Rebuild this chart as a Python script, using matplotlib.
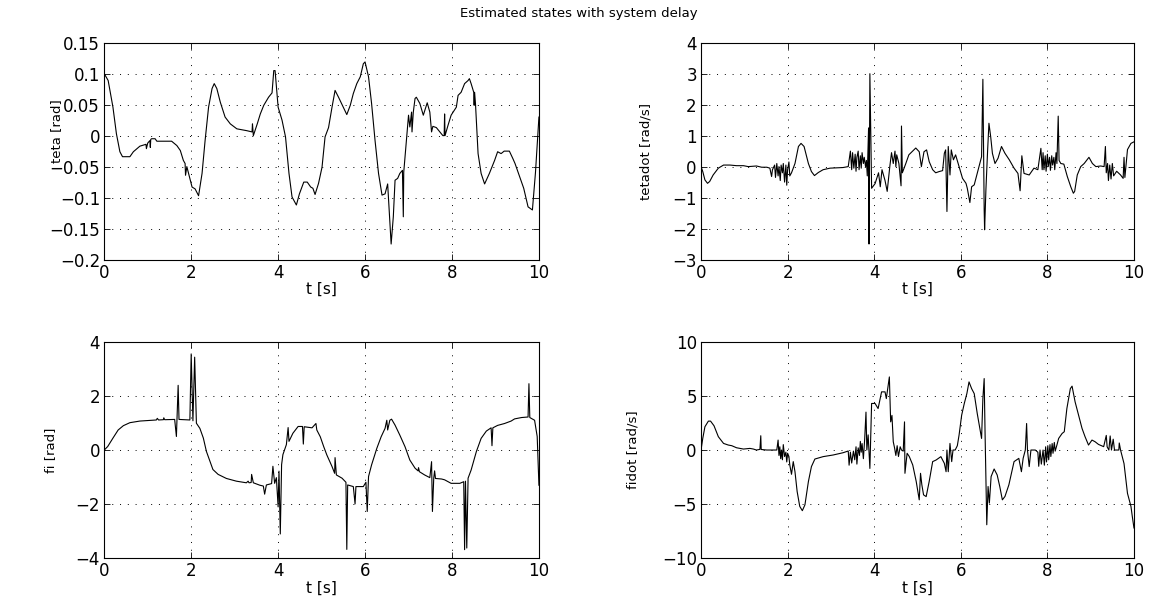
import matplotlib
matplotlib.use("Agg")
import matplotlib.pyplot as plt
import numpy as np

# (t, value) points
teta_pts = [
    (0, 0.1), (0.09, 0.089), (0.2, 0.046), (0.28, 0.003), (0.36, -0.026), (0.42, -0.034),
    (0.59, -0.034), (0.67, -0.026), (0.82, -0.017), (0.96, -0.014), (0.97, -0.021), (1.0, -0.012),
    (1.05, -0.008), (1.06, -0.019), (1.07, -0.006), (1.09, -0.005), (1.17, -0.005), (1.21, -0.009),
    (1.55, -0.009), (1.67, -0.016), (1.75, -0.024), (1.82, -0.04), (1.86, -0.045), (1.87, -0.064),
    (1.9, -0.05), (1.98, -0.072), (2.02, -0.083), (2.09, -0.086), (2.17, -0.097), (2.25, -0.061),
    (2.32, -0.008), (2.4, 0.046), (2.48, 0.076), (2.53, 0.084), (2.59, 0.076), (2.67, 0.054),
    (2.78, 0.03), (2.9, 0.019), (3.05, 0.011), (3.28, 0.008), (3.4, 0.006), (3.41, 0.019),
    (3.43, 0.0), (3.52, 0.019), (3.59, 0.035), (3.67, 0.049), (3.78, 0.062), (3.86, 0.069),
    (3.9, 0.105), (3.93, 0.105), (4.0, 0.046), (4.09, 0.025), (4.17, -0.002), (4.25, -0.061),
    (4.32, -0.099), (4.42, -0.112), (4.49, -0.094), (4.59, -0.075), (4.67, -0.075), (4.75, -0.083),
    (4.8, -0.085), (4.85, -0.095), (4.93, -0.077), (5.01, -0.051), (5.08, -0.002), (5.16, 0.013),
    (5.24, 0.046), (5.31, 0.073), (5.39, 0.062), (5.5, 0.046), (5.58, 0.034), (5.66, 0.049),
    (5.73, 0.068), (5.81, 0.084), (5.89, 0.095), (5.96, 0.116), (6.0, 0.119), (6.08, 0.095),
    (6.15, 0.052), (6.23, -0.008), (6.31, -0.061), (6.39, -0.096), (6.46, -0.094), (6.52, -0.078),
    (6.57, -0.137), (6.6, -0.175), (6.65, -0.131), (6.69, -0.072), (6.75, -0.069), (6.8, -0.061),
    (6.86, -0.056), (6.88, -0.131), (6.89, -0.059), (6.92, -0.034), (6.95, -0.01), (7.0, 0.033),
    (7.03, 0.014), (7.07, 0.038), (7.08, 0.006), (7.11, 0.038), (7.15, 0.06), (7.18, 0.062),
    (7.26, 0.052), (7.34, 0.033), (7.43, 0.053), (7.49, 0.038), (7.53, 0.006), (7.56, 0.015),
    (7.64, 0.013), (7.72, 0.006), (7.79, 0.0), (7.82, 0.0), (7.83, 0.035), (7.84, 0.0),
    (7.91, 0.017), (7.98, 0.033), (8.1, 0.046), (8.14, 0.065), (8.21, 0.07), (8.29, 0.084),
    (8.37, 0.089), (8.4, 0.092), (8.44, 0.084), (8.5, 0.07), (8.51, 0.049), (8.52, 0.07),
    (8.54, 0.052), (8.6, -0.029), (8.67, -0.061), (8.75, -0.078), (8.86, -0.061), (8.98, -0.04),
    (9.05, -0.026), (9.13, -0.029), (9.2, -0.025), (9.32, -0.025), (9.4, -0.037), (9.45, -0.045),
    (9.55, -0.065), (9.65, -0.085), (9.75, -0.115), (9.85, -0.12), (9.92, -0.06), (10.0, 0.03),
]

tetadot_pts = [
    (0, 0), (0.04, -0.16), (0.09, -0.43), (0.15, -0.54), (0.2, -0.48), (0.28, -0.27), (0.4, -0.05),
    (0.52, 0.05), (0.67, 0.05), (0.82, 0.03), (0.98, 0.03), (1.09, 0.0), (1.28, 0.02), (1.4, -0.02),
    (1.52, -0.02), (1.59, -0.05), (1.63, -0.32), (1.65, -0.1), (1.7, 0.05), (1.72, -0.35), (1.75, 0.1),
    (1.78, -0.3), (1.8, 0.0), (1.83, -0.45), (1.85, 0.05), (1.88, -0.2), (1.9, 0.1), (1.93, -0.5),
    (1.96, 0.05), (1.98, -0.6), (2.0, -0.1), (2.03, 0.15), (2.05, -0.3), (2.09, -0.2), (2.17, 0.1),
    (2.25, 0.65), (2.31, 0.75), (2.38, 0.65), (2.48, 0.1), (2.55, -0.16), (2.62, -0.29), (2.71, -0.19),
    (2.82, -0.1), (2.98, -0.05), (3.28, -0.03), (3.4, 0.0), (3.45, 0.5), (3.48, -0.1), (3.5, 0.45),
    (3.53, -0.05), (3.56, 0.4), (3.58, -0.15), (3.6, 0.3), (3.63, 0.5), (3.65, -0.1), (3.68, 0.35),
    (3.7, -0.05), (3.72, 0.45), (3.75, 0.1), (3.77, 0.3), (3.8, 0.0), (3.82, 0.2), (3.84, -0.3),
    (3.87, 1.25), (3.88, -2.5), (3.9, 3.0), (3.94, -0.7), (4.02, -0.55), (4.1, -0.2), (4.14, -0.65),
    (4.18, -0.1), (4.25, -0.45), (4.3, -0.8), (4.36, 0.0), (4.4, 0.45), (4.44, 0.1), (4.48, 0.5),
    (4.5, 0.0), (4.52, 0.38), (4.57, 0.1), (4.62, -0.62), (4.63, 1.31), (4.65, -0.2), (4.73, 0.1),
    (4.8, 0.38), (4.96, 0.6), (5.04, 0.48), (5.09, 0.0), (5.15, 0.48), (5.21, 0.54), (5.27, 0.16),
    (5.35, -0.1), (5.42, -0.2), (5.5, -0.16), (5.58, -0.13), (5.62, 0.43), (5.65, 0.54), (5.68, -1.45),
    (5.71, 0.65), (5.75, -0.27), (5.78, 0.54), (5.83, 0.22), (5.88, 0.38), (5.96, 0.0), (6.04, -0.38),
    (6.12, -0.54), (6.15, -0.7), (6.21, -1.16), (6.25, -0.65), (6.31, -0.59), (6.38, -0.22),
    (6.45, 0.16), (6.48, 0.32), (6.51, 2.82), (6.54, -1.4), (6.55, -2.04), (6.58, -0.75), (6.62, 0.54),
    (6.65, 1.4), (6.69, 0.97), (6.73, 0.43), (6.79, 0.1), (6.86, 0.27), (6.94, 0.65), (7.02, 0.43),
    (7.12, 0.22), (7.23, -0.05), (7.32, -0.22), (7.37, -0.78), (7.41, 0.35), (7.46, -0.22),
    (7.58, -0.27), (7.69, -0.05), (7.78, -0.1), (7.85, 0.59), (7.88, -0.1), (7.9, 0.45), (7.92, -0.1),
    (7.95, 0.35), (7.97, -0.15), (8.0, 0.4), (8.02, 0.0), (8.05, 0.3), (8.07, -0.12), (8.1, 0.35),
    (8.12, 0.05), (8.15, 0.3), (8.17, -0.1), (8.2, 0.45), (8.22, 0.1), (8.25, 1.63), (8.27, 0.2),
    (8.31, 0.1), (8.38, 0.08), (8.46, -0.32), (8.54, -0.65), (8.6, -0.86), (8.63, -0.8), (8.69, -0.27),
    (8.77, 0.0), (8.85, 0.1), (8.96, 0.3), (9.04, 0.1), (9.12, 0.0), (9.23, 0.02), (9.31, 0.0),
    (9.34, 0.65), (9.36, -0.2), (9.39, 0.1), (9.41, -0.45), (9.44, 0.05), (9.47, -0.4), (9.5, 0.1),
    (9.53, -0.3), (9.6, -0.15), (9.69, -0.27), (9.75, -0.38), (9.77, 0.3), (9.79, -0.35),
    (9.85, 0.55), (9.93, 0.75), (10.0, 0.8),
]

fi_pts = [
    (0, 0), (0.08, 0.13), (0.2, 0.44), (0.32, 0.74), (0.44, 0.9), (0.59, 1.01), (0.82, 1.07),
    (1.2, 1.11), (1.22, 1.17), (1.25, 1.11), (1.36, 1.12), (1.37, 1.19), (1.39, 1.12), (1.62, 1.13),
    (1.66, 0.5), (1.7, 2.39), (1.72, 1.13), (1.97, 1.11), (2.0, 3.55), (2.04, 1.08), (2.08, 3.43),
    (2.12, 0.99), (2.2, 0.8), (2.28, 0.44), (2.35, -0.05), (2.43, -0.41), (2.5, -0.72), (2.62, -0.9),
    (2.81, -1.05), (3.04, -1.15), (3.27, -1.21), (3.31, -1.15), (3.33, -1.21), (3.38, -1.2),
    (3.39, -0.9), (3.43, -1.21), (3.58, -1.3), (3.66, -1.33), (3.69, -1.63), (3.73, -1.29),
    (3.85, -1.24), (3.88, -0.6), (3.92, -1.23), (3.96, -1.02), (4.0, -2.1), (4.02, -0.78),
    (4.05, -3.1), (4.08, -0.54), (4.11, -0.17), (4.19, 0.2), (4.23, 0.83), (4.25, 0.32), (4.34, 0.62),
    (4.46, 0.87), (4.56, 0.87), (4.58, 0.22), (4.6, 0.86), (4.78, 0.82), (4.87, 0.98), (4.89, 0.74),
    (4.97, 0.49), (5.05, 0.12), (5.12, -0.18), (5.24, -0.61), (5.3, -0.86), (5.31, -0.28),
    (5.34, -0.92), (5.47, -1.04), (5.56, -1.19), (5.58, -3.67), (5.6, -1.29), (5.73, -1.35),
    (5.77, -1.99), (5.79, -1.35), (5.96, -1.35), (6.02, -1.19), (6.05, -2.27), (6.08, -0.98),
    (6.15, -0.55), (6.27, 0.06), (6.37, 0.49), (6.46, 0.8), (6.5, 1.1), (6.52, 0.74), (6.57, 1.1),
    (6.61, 1.14), (6.69, 0.92), (6.8, 0.55), (6.92, 0.12), (7.03, -0.37), (7.15, -0.67),
    (7.22, -0.77), (7.23, -0.65), (7.25, -0.8), (7.37, -0.92), (7.49, -1.02), (7.53, -0.43),
    (7.55, -2.27), (7.58, -1.04), (7.6, -0.77), (7.62, -1.05), (7.76, -1.07), (7.83, -1.1),
    (7.91, -1.17), (7.98, -1.23), (8.18, -1.23), (8.27, -1.17), (8.29, -3.68), (8.31, -1.15),
    (8.34, -3.62), (8.37, -1.04), (8.44, -0.74), (8.56, -0.06), (8.67, 0.43), (8.79, 0.7),
    (8.9, 0.82), (8.92, 0.16), (8.94, 0.82), (9.05, 0.91), (9.21, 0.98), (9.36, 1.07), (9.44, 1.15),
    (9.6, 1.2), (9.75, 1.22), (9.77, 2.45), (9.79, 1.2), (9.9, 1.1), (9.96, 0.5), (10.0, -1.3),
]

fidot_pts = [
    (0, 0), (0.04, 1.07), (0.09, 2.15), (0.17, 2.67), (0.22, 2.67), (0.3, 2.24), (0.4, 1.23),
    (0.52, 0.61), (0.63, 0.46), (0.71, 0.4), (0.82, 0.21), (0.98, 0.09), (1.13, 0.15), (1.21, 0.09),
    (1.28, 0.0), (1.36, 0.06), (1.38, 1.32), (1.39, 0.05), (1.52, 0.0), (1.75, 0.0), (1.78, 0.92),
    (1.8, -0.5), (1.82, 0.3), (1.84, -0.8), (1.86, 0.0), (1.88, -0.9), (1.9, 0.5), (1.93, -0.6),
    (1.96, -0.2), (1.98, -1.1), (2.0, -0.3), (2.03, -0.6), (2.05, -1.38), (2.09, -2.24), (2.13, -1.07),
    (2.17, -2.0), (2.22, -3.83), (2.28, -5.2), (2.34, -5.6), (2.4, -5.06), (2.48, -2.91),
    (2.55, -1.53), (2.63, -0.83), (2.82, -0.61), (3.05, -0.46), (3.28, -0.25), (3.4, -0.09),
    (3.42, -1.4), (3.45, -0.2), (3.48, -1.2), (3.52, -0.1), (3.55, -0.9), (3.58, 0.3), (3.6, -1.3),
    (3.63, 0.2), (3.66, -0.5), (3.68, 0.8), (3.7, -0.2), (3.72, 0.6), (3.75, -0.8), (3.78, 1.0),
    (3.81, 3.5), (3.83, 0.0), (3.86, 1.4), (3.9, -1.7), (3.94, 4.3), (4.02, 4.3), (4.09, 3.83),
    (4.17, 5.37), (4.25, 5.37), (4.28, 4.75), (4.35, 6.75), (4.38, 2.6), (4.41, 3.2), (4.44, 0.77),
    (4.47, 0.2), (4.5, -0.5), (4.53, 0.4), (4.56, -0.6), (4.6, 0.3), (4.63, 0.0), (4.67, -0.1),
    (4.7, 2.6), (4.71, -2.15), (4.76, -0.3), (4.81, -0.6), (4.89, -1.38), (4.97, -2.9), (5.04, -4.6),
    (5.07, -2.15), (5.1, -3.2), (5.14, -4.14), (5.2, -4.3), (5.27, -2.9), (5.35, -1.07), (5.43, -0.92),
    (5.54, -0.61), (5.62, -1.23), (5.66, -2.0), (5.68, 0.0), (5.71, -2.0), (5.75, 0.61), (5.79, -1.07),
    (5.82, 0.0), (5.87, 0.0), (5.92, 0.4), (5.96, 1.38), (6.02, 3.22), (6.08, 4.29), (6.14, 5.21),
    (6.19, 6.29), (6.25, 5.67), (6.31, 5.21), (6.38, 3.37), (6.44, 2.0), (6.48, 1.07), (6.51, 4.75),
    (6.54, 6.6), (6.56, 1.69), (6.6, -6.9), (6.63, -3.37), (6.66, -4.9), (6.7, -2.45), (6.77, -1.75),
    (6.84, -2.3), (6.9, -3.37), (6.96, -4.6), (7.02, -4.29), (7.11, -3.22), (7.23, -1.07),
    (7.34, -0.77), (7.4, -2.0), (7.44, -0.77), (7.49, 0.0), (7.52, 2.45), (7.54, 0.0), (7.58, -1.53),
    (7.62, 0.0), (7.72, 0.0), (7.78, -0.2), (7.8, -1.5), (7.83, 0.0), (7.86, -1.3), (7.9, 0.0),
    (7.93, -1.4), (7.96, 0.3), (7.98, -1.1), (8.01, 0.4), (8.03, -0.9), (8.06, 0.5), (8.08, -0.6),
    (8.11, 0.6), (8.13, -0.3), (8.16, 0.7), (8.18, -0.1), (8.22, 0.46), (8.26, 1.07), (8.34, 1.53),
    (8.39, 1.69), (8.45, 3.83), (8.53, 5.67), (8.57, 5.9), (8.64, 4.45), (8.72, 3.22), (8.8, 2.0),
    (8.87, 1.23), (8.95, 0.46), (9.03, 0.92), (9.1, 0.77), (9.18, 0.52), (9.3, 0.31), (9.36, 1.35),
    (9.38, 0.3), (9.42, 0.0), (9.45, 1.3), (9.48, 0.0), (9.52, 1.0), (9.55, 0.0), (9.65, 0.0),
    (9.66, 0.65), (9.69, 0.0), (9.77, -1.25), (9.85, -4.0), (9.93, -5.2), (9.96, -6.1), (10.0, -7.2),
]

ylabels = ["teta [rad]", "tetadot [rad/s]", "fi [rad]", "fidot [rad/s]"]
yticks = [
    [-0.2, -0.15, -0.1, -0.05, 0, 0.05, 0.1, 0.15],
    [-3, -2, -1, 0, 1, 2, 3, 4],
    [-4, -2, 0, 2, 4],
    [-10, -5, 0, 5, 10],
]
yticklabels = [
    ["\u22120.2", "\u22120.15", "\u22120.1", "\u22120.05", "0", "0.05", "0.1", "0.15"],
    ["\u22123", "\u22122", "\u22121", "0", "1", "2", "3", "4"],
    ["\u22124", "\u22122", "0", "2", "4"],
    ["\u221210", "\u22125", "0", "5", "10"],
]
xticks = [0, 2, 4, 6, 8, 10]
title = "Estimated states with system delay"

plt.rcParams['font.family'] = ['DejaVu Sans']

fig = plt.figure(figsize=(11.57, 6.01), dpi=100)
# axes rectangles [left, bottom, width, height] in figure fractions
rects = [
    [0.0901, 0.5682, 0.3757, 0.3607],
    [0.6059, 0.5682, 0.3742, 0.3607],
    [0.0901, 0.0710, 0.3757, 0.3604],
    [0.6059, 0.0710, 0.3742, 0.3604],
]
# ylabel positions in axes coords (MATLAB puts them close to the axis)
ylab_x = [-0.095, -0.113, -0.109, -0.143]
ylab_y = [0.59, 0.5, 0.5, 0.5]
series = [teta_pts, tetadot_pts, fi_pts, fidot_pts]

for i in range(4):
    ax = fig.add_axes(rects[i])
    t, v = zip(*series[i])
    ax.plot(t, v, color='black', lw=0.8)
    ax.set_xlim(0, 10)
    ax.set_ylim(yticks[i][0], yticks[i][-1])
    ax.set_xticks(xticks)
    ax.set_xticklabels([str(x) for x in xticks])
    ax.set_yticks(yticks[i])
    ax.set_yticklabels(yticklabels[i])
    ax.tick_params(direction='in', top=True, right=True, labelsize=12, length=4, width=0.6, pad=3)
    ax.grid(True, color='black', linestyle=(0, (1, 7)), linewidth=0.7)
    for sp in ax.spines.values():
        sp.set_linewidth(0.8)
    ax.set_xlabel("t [s]", fontsize=11, labelpad=0)
    ax.set_ylabel(ylabels[i], fontsize=9.5)
    ax.yaxis.set_label_coords(ylab_x[i], ylab_y[i])

fig.text(0.5, 1 - 14 / 601, title, ha='center', va='center', fontsize=9.5)

fig.savefig("out.png", dpi=100)
